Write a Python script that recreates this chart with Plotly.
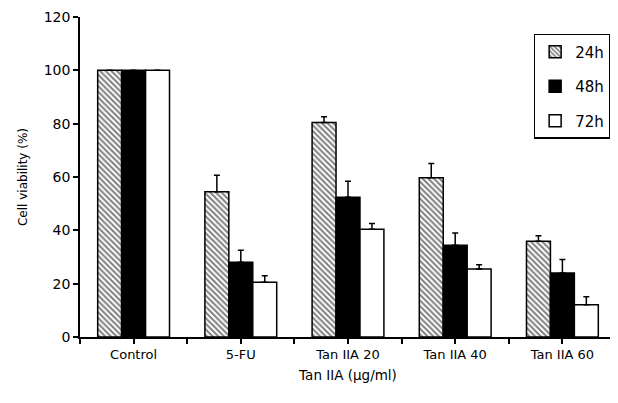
import plotly.graph_objects as go

categories = ["Control", "5-FU", "Tan IIA 20", "Tan IIA 40", "Tan IIA 60"]
series_names = ["24h", "48h", "72h"]
v24 = [100, 54.5, 80.4, 59.7, 35.9]
e24 = [0, 6.2, 2.2, 5.4, 2.1]
v48 = [100, 28.0, 52.4, 34.4, 24.0]
e48 = [0, 4.5, 6.0, 4.6, 5.1]
v72 = [100, 20.5, 40.4, 25.5, 12.1]
e72 = [0, 2.5, 2.2, 1.6, 3.0]
y_ticks = [0, 20, 40, 60, 80, 100, 120]

xpos = [i + 0.5 for i in range(len(categories))]
tickvals = [i * 0.5 for i in range(2 * len(categories) + 1)]
ticktext = [categories[i // 2] if i % 2 == 1 else "" for i in range(len(tickvals))]

font = "DejaVu Sans"
fig = go.Figure()
styles = [
    dict(color="white", pattern=dict(shape="\\", fgcolor="black", bgcolor="white", size=4, solidity=0.5)),
    dict(color="black"),
    dict(color="white"),
]
for name, vals, errs, st in zip(series_names, [v24, v48, v72], [e24, e48, e72], styles):
    fig.add_trace(go.Bar(
        x=xpos, y=vals, name=name, legendgroup=name,
        marker=dict(line=dict(color="black", width=1.5), **st),
        error_y=dict(type="data", symmetric=False, array=errs,
                     arrayminus=[0] * len(errs), color="black",
                     thickness=1.5, width=3),
    ))

# page body has an 8px margin: size/margins chosen so the plot area lands at x 80-616, y 17-337
fig.update_layout(
    width=610, height=395,
    margin=dict(l=72, r=2, t=9, b=66),
    paper_bgcolor="white", plot_bgcolor="white",
    barmode="group", bargap=0.33, bargroupgap=0,
    font=dict(family=font, size=14, color="black"),
    showlegend=True,
    legend=dict(x=0.99, y=0.947, xanchor="right", yanchor="top",
                bordercolor="black", borderwidth=1.5, bgcolor="white",
                font=dict(size=15), itemwidth=30, tracegroupgap=12,
                traceorder="grouped"),
    xaxis=dict(range=[0, 5], tickvals=tickvals, ticktext=ticktext,
               showline=True, linecolor="black", linewidth=1.5,
               ticks="outside", ticklen=5, tickwidth=1.5, tickcolor="black",
               showgrid=False, zeroline=False,
               tickfont=dict(size=13),
               title=dict(text="Tan IIA (µg/ml)", font=dict(size=13.5), standoff=9)),
    yaxis=dict(range=[0, 120], tickvals=y_ticks,
               showline=True, linecolor="black", linewidth=1.5,
               ticks="outside", ticklen=5, tickwidth=1.5, tickcolor="black",
               showgrid=False, zeroline=False,
               tickfont=dict(size=14),
               title=dict(text="Cell viability (%)", font=dict(size=12), standoff=14)),
)
fig.write_html("out.html")
